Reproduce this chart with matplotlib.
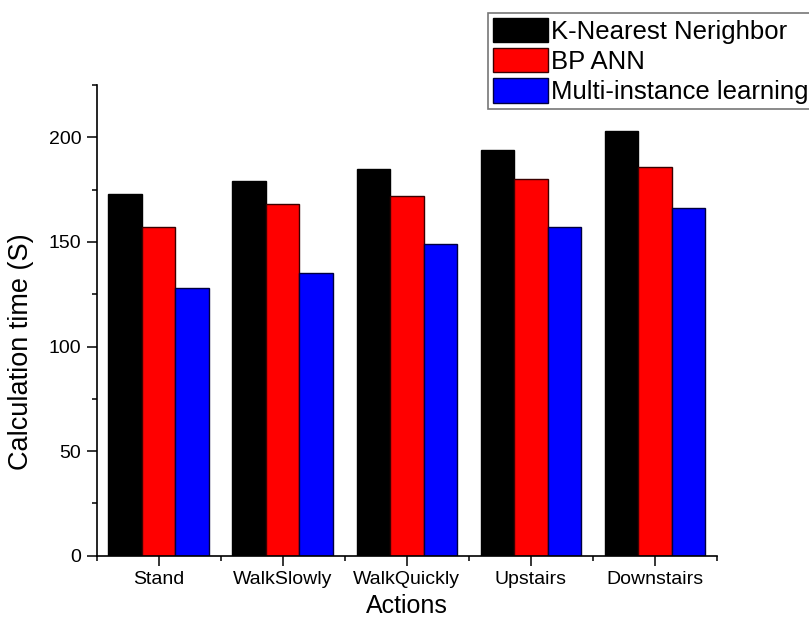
import matplotlib
matplotlib.use("Agg")
import matplotlib.pyplot as plt
import numpy as np
from matplotlib.ticker import MultipleLocator, FixedLocator

plt.rcParams['font.family'] = ['Liberation Sans', 'DejaVu Sans']

categories = ["Stand", "WalkSlowly", "WalkQuickly", "Upstairs", "Downstairs"]
knn = [173, 179, 185, 194, 203]
bp_ann = [157, 168, 172, 180, 186]
mil = [128, 135, 149, 157, 166]
series_names = ["K-Nearest Nerighbor", "BP ANN", "Multi-instance learning"]

fig = plt.figure(figsize=(8.09, 6.31), dpi=100)
ax = fig.add_axes([0.1193, 0.1193, 0.8863 - 0.1193, 0.8653 - 0.1193])

x = np.arange(1, len(categories) + 1)
w = 0.27
styles = [("#000000", "#000000"), ("#ff0000", "#3a0000"), ("#0000ff", "#000040")]
handles = []
for i, (vals, name, (fc, ec)) in enumerate(zip([knn, bp_ann, mil], series_names, styles)):
    b = ax.bar(x + (i - 1) * w, vals, width=w, color=fc, edgecolor=ec,
               linewidth=1.0, label=name)
    handles.append(b)

ax.set_xlim(0.5, 5.5)
ax.set_ylim(0, 225)
ax.set_xticks(x)
ax.set_xticklabels(categories)
ax.xaxis.set_minor_locator(FixedLocator(np.arange(0.5, 6.0, 1.0)))
ax.yaxis.set_major_locator(MultipleLocator(50))
ax.yaxis.set_minor_locator(MultipleLocator(25))

for side in ("top", "right"):
    ax.spines[side].set_visible(False)
for side in ("left", "bottom"):
    ax.spines[side].set_linewidth(1.2)

ax.tick_params(axis="both", which="major", direction="out", length=7, width=1.1,
               labelsize=14, pad=4)
ax.tick_params(axis="both", which="minor", direction="out", length=3.5, width=1.1)

ax.set_xlabel("Actions", fontsize=18, labelpad=4)
ax.set_ylabel("Calculation time (S)", fontsize=19.5)
ax.yaxis.set_label_coords(-0.1, 0.433)

leg = fig.legend(handles=handles, labels=series_names, loc="upper left",
                 bbox_to_anchor=(488 / 809, 1 - 13 / 631),
                 fontsize=18.5, frameon=True, fancybox=False,
                 handlelength=2.14, handleheight=1.09, handletextpad=0.15,
                 labelspacing=0.17, borderpad=0.18, borderaxespad=0)
frame = leg.get_frame()
frame.set_edgecolor("#555555")
frame.set_linewidth(1.2)

fig.savefig("out.png", dpi=100)
